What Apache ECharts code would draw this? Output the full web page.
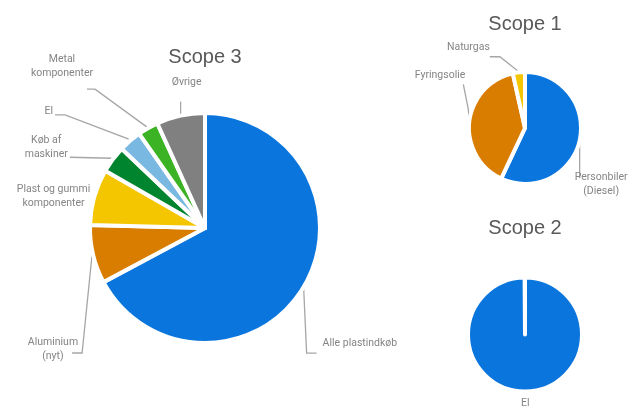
<!DOCTYPE html>
<html>
<head>
<meta charset="utf-8">
<script src="https://cdn.jsdelivr.net/npm/echarts@6/dist/echarts.min.js"></script>
<style>
  html, body { margin: 0; padding: 0; background: #ffffff; }
  #chart { width: 632px; height: 407px; }
</style>
</head>
<body>
<div id="chart"></div>
<script>
// Emission shares per scope (% of each scope's total)
const scope3Categories = ['Alle plastindkøb', 'Aluminium\n(nyt)', 'Plast og gummi\nkomponenter', 'Køb af\nmaskiner', 'El', 'Metal\nkomponenter', 'Øvrige'];
const scope3Values = [67.2, 8.2, 7.9, 3.8, 3.2, 2.9, 6.8];

const scope1Categories = ['Personbiler\n(Diesel)', 'Fyringsolie', 'Naturgas'];
const scope1Values = [57, 39.5, 3.5];

const scope2Categories = ['El'];
const scope2Values = [100];

const chartTitles = ['Scope 3', 'Scope 1', 'Scope 2'];

// Colours
const BLUE = '#0A75DC', ORANGE = '#D97D00', YELLOW = '#F4C600', DARK_GREEN = '#00842E',
      LIGHT_BLUE = '#79B8E1', GREEN = '#3BB325', GREY = '#808080';
const scope3Colors = [BLUE, ORANGE, YELLOW, DARK_GREEN, LIGHT_BLUE, GREEN, GREY];
const scope1Colors = [BLUE, ORANGE, YELLOW];
const scope2Colors = [BLUE];

// Leader-line bends and text anchors, as offsets from each slice's outer edge point
const scope3Placement = [
  { line: [[0, 0], [3, 66], [13, 66]], text: [19, 56], align: 'left' },
  { line: [[-1, 0], [-11, 98.5], [-21, 98.5]], text: [-15, 94.5], align: 'right' },
  { line: [[0, 0]], text: [-4, -1], align: 'right' },
  { line: [[-1, -1], [-43, -2]], text: [-45, -12], align: 'right' },
  { line: [[-2, -2], [-65, -26], [-75, -26]], text: [-77, -29], align: 'right' },
  { line: [[-1, -1], [-53, -39], [-61, -39]], text: [-55, -62], align: 'right' },
  { line: [[0, -1], [0, -14]], text: [6, -33], align: 'center' }
];
const scope1Placement = [
  { line: [[0, 1], [0, 38]], text: [-5, 44], align: 'left' },
  { line: [[-1, -12.4], [-6, -37.4]], text: [-4, -46], align: 'right' },
  { line: [[0, -0.6], [-19, -15.6], [-29, -15.6]], text: [-29, -25], align: 'right' }
];
const scope2Placement = [
  { line: [[0, 0]], text: [0, 12], align: 'center' }
];
const placements = [scope3Placement, scope1Placement, scope2Placement];

const LABEL_FONT = 'Roboto, "Liberation Sans", sans-serif';
const TITLE_FONT = '"Liberation Sans", Arial, sans-serif';
const LABEL_COLOR = '#858585';

function placeLabel(params) {
  const pts = params.labelLinePoints;
  if (!pts || !pts.length) return {};
  const s = pts[0];
  const p = placements[params.seriesIndex][params.dataIndex];
  return {
    x: s[0] + p.text[0],
    y: s[1] + p.text[1],
    align: p.align,
    verticalAlign: 'middle',
    labelLinePoints: [[s[0], s[1]]].concat(p.line.map(o => [s[0] + o[0], s[1] + o[1]]))
  };
}

function pieSeries(names, values, colors, center, radius, extra) {
  return Object.assign({
    type: 'pie',
    center: center,
    radius: radius,
    startAngle: 90,
    clockwise: true,
    avoidLabelOverlap: false,
    silent: true,
    animation: false,
    itemStyle: { borderColor: '#ffffff', borderWidth: 4 },
    label: {
      show: true,
      position: 'outside',
      color: LABEL_COLOR,
      fontFamily: LABEL_FONT,
      fontSize: 10.5,
      lineHeight: 14,
      formatter: p => p.name.split('\n').map(s => '{c|' + s + '}').join('\n'),
      rich: {
        c: { align: 'center', color: LABEL_COLOR, fontFamily: LABEL_FONT, fontSize: 10.5, lineHeight: 14 }
      }
    },
    labelLine: { show: true, length: 8, length2: 8, lineStyle: { color: '#A6A6A6', width: 1.3 } },
    labelLayout: placeLabel,
    data: names.map((n, i) => ({ name: n, value: values[i], itemStyle: { color: colors[i] } }))
  }, extra || {});
}

const titlePositions = [[205, 57], [525, 24], [525, 228]];

const chart = echarts.init(document.getElementById('chart'), null, { renderer: 'canvas' });
chart.setOption({
  backgroundColor: '#ffffff',
  animation: false,
  graphic: chartTitles.map((t, i) => ({
    type: 'text',
    x: titlePositions[i][0],
    y: titlePositions[i][1],
    silent: true,
    style: {
      text: t,
      align: 'center',
      verticalAlign: 'middle',
      fill: '#595959',
      font: '20px ' + TITLE_FONT
    }
  })),
  series: [
    pieSeries(scope3Categories, scope3Values, scope3Colors, [205, 228], 115),
    pieSeries(scope1Categories, scope1Values, scope1Colors, [525, 128], 56),
    // single slice drawn just short of a full turn so its seam shows at the top
    pieSeries(scope2Categories, scope2Values, scope2Colors, [525, 334.5], 57, { endAngle: 90.4 })
  ]
});
</script>
</body>
</html>
